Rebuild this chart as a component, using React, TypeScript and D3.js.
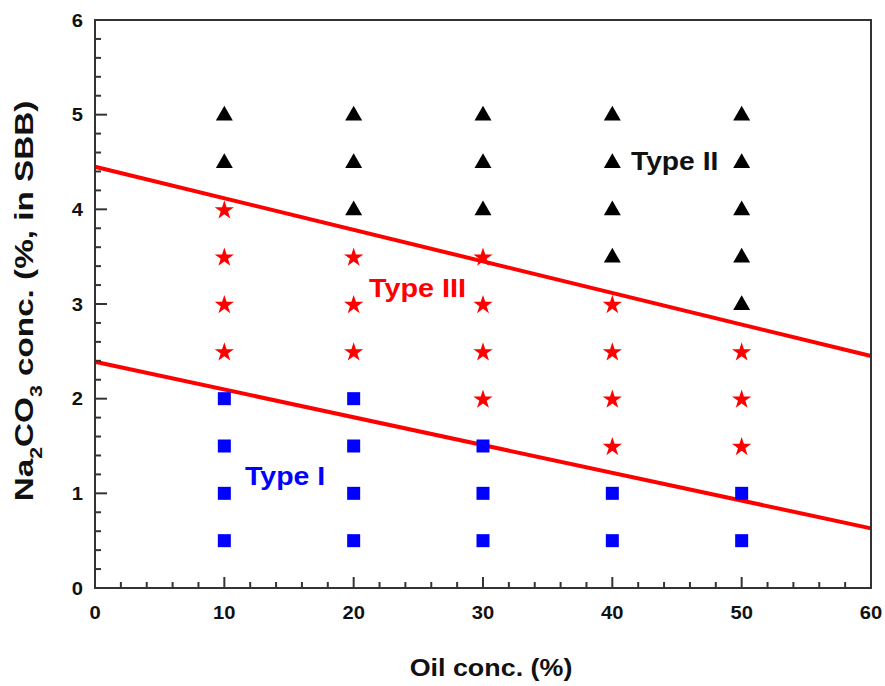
import React from "react";
import * as d3 from "d3";

// Phase behaviour points: oil concentration (%) vs Na2CO3 concentration (%)
const typeIPoints: [number, number][] = [
  [10, 0.5], [10, 1], [10, 1.5], [10, 2],
  [20, 0.5], [20, 1], [20, 1.5], [20, 2],
  [30, 0.5], [30, 1], [30, 1.5],
  [40, 0.5], [40, 1],
  [50, 0.5], [50, 1],
];
const typeIIIPoints: [number, number][] = [
  [10, 2.5], [10, 3], [10, 3.5], [10, 4],
  [20, 2.5], [20, 3], [20, 3.5],
  [30, 2], [30, 2.5], [30, 3], [30, 3.5],
  [40, 1.5], [40, 2], [40, 2.5], [40, 3],
  [50, 1.5], [50, 2], [50, 2.5],
];
const typeIIPoints: [number, number][] = [
  [10, 4.5], [10, 5],
  [20, 4], [20, 4.5], [20, 5],
  [30, 4], [30, 4.5], [30, 5],
  [40, 3.5], [40, 4], [40, 4.5], [40, 5],
  [50, 3], [50, 3.5], [50, 4], [50, 4.5], [50, 5],
];
// Phase boundaries (start and end of each line)
const upperBoundary: [number, number][] = [[0, 4.45], [60, 2.45]];
const lowerBoundary: [number, number][] = [[0, 2.39], [60, 0.63]];

const xTicks = [0, 10, 20, 30, 40, 50, 60];
const yTicks = [0, 1, 2, 3, 4, 5, 6];

const W = 885;
const H = 686;
const left = 95, right = 871, top = 20, bottom = 588;
const FONT = "Arial, 'Liberation Sans', sans-serif";

// Bold label, widened horizontally around its anchor point
function Label(props: {
  x: number; y: number; size: number; sx?: number; anchor?: string; fill?: string; rotate?: number; children: React.ReactNode;
}) {
  const { x, y, size, sx = 1, anchor = "start", fill = "#111", rotate = 0, children } = props;
  return (
    <text
      transform={`translate(${x},${y}) rotate(${rotate}) scale(${sx},1)`}
      textAnchor={anchor}
      fontFamily={FONT}
      fontWeight="bold"
      fontSize={size}
      fill={fill}
    >
      {children}
    </text>
  );
}

export default function App() {
  const x = d3.scaleLinear().domain([0, 60]).range([left, right]);
  const y = d3.scaleLinear().domain([0, 6]).range([bottom, top]);
  const axisColor = "#333";

  const xMinor = d3.range(0, 60.001, 2).filter((v) => v % 10 !== 0);
  const yMinor = d3.range(0, 6.001, 0.2).filter((v) => Math.abs(v - Math.round(v)) > 0.01);

  const line = d3.line<[number, number]>().x((d) => x(d[0])).y((d) => y(d[1]));
  const star = d3.symbol().type(d3.symbolStar).size(115)() as string;
  const tri = d3.symbol().type(d3.symbolTriangle).size(125)() as string;

  return (
    <svg width={W} height={H} style={{ position: "absolute", left: 0, top: 0, background: "#fff" }}>
      <rect x={0} y={0} width={W} height={H} fill="#fff" />
      {/* phase boundaries */}
      {[upperBoundary, lowerBoundary].map((b, i) => (
        <path key={i} d={line(b) || ""} stroke="#ff0000" strokeWidth={4} fill="none" />
      ))}
      {/* frame */}
      <rect x={left} y={top} width={right - left} height={bottom - top} fill="none" stroke={axisColor} strokeWidth={2} />
      {/* x ticks */}
      {xTicks.map((t) => (
        <g key={"xt" + t}>
          <line x1={x(t)} x2={x(t)} y1={bottom} y2={bottom - 11} stroke={axisColor} strokeWidth={2} />
          <Label x={x(t)} y={619} size={18} sx={1.12} anchor="middle">{t}</Label>
        </g>
      ))}
      {xMinor.map((t) => (
        <line key={"xm" + t} x1={x(t)} x2={x(t)} y1={bottom} y2={bottom - 6} stroke={axisColor} strokeWidth={2} />
      ))}
      {/* y ticks */}
      {yTicks.map((t) => (
        <g key={"yt" + t}>
          <line x1={left} x2={left + 12} y1={y(t)} y2={y(t)} stroke={axisColor} strokeWidth={2} />
          <Label x={83} y={y(t) + 6.5} size={18} sx={1.12} anchor="end">{t}</Label>
        </g>
      ))}
      {yMinor.map((t) => (
        <line key={"ym" + t} x1={left} x2={left + 6} y1={y(t)} y2={y(t)} stroke={axisColor} strokeWidth={2} />
      ))}
      {/* data points */}
      {typeIPoints.map(([a, b], i) => (
        <rect key={"s" + i} x={x(a) - 6.5} y={y(b) - 6.5} width={13} height={13} fill="#0000ff" />
      ))}
      {typeIIIPoints.map(([a, b], i) => (
        <path key={"r" + i} d={star} transform={`translate(${x(a)},${y(b) + 1})`} fill="#ff0000" />
      ))}
      {typeIIPoints.map(([a, b], i) => (
        <path key={"t" + i} d={tri} transform={`translate(${x(a)},${y(b) + 1})`} fill="#000" />
      ))}
      {/* region labels */}
      <Label x={631} y={170} size={25} sx={1.13}>Type II</Label>
      <Label x={369} y={297} size={25} sx={1.15} fill="#ff0000">Type III</Label>
      <Label x={245} y={485} size={25} sx={1.14} fill="#0000ff">Type I</Label>
      {/* axis titles */}
      <Label x={491} y={676} size={24} sx={1.12} anchor="middle">Oil conc. (%)</Label>
      <Label x={33} y={301} size={25} sx={1.33} anchor="middle" rotate={-90}>
        Na<tspan baselineShift="sub" fontSize={16}>2</tspan>CO<tspan baselineShift="sub" fontSize={16}>3</tspan> conc. (%, in SBB)
      </Label>
    </svg>
  );
}
